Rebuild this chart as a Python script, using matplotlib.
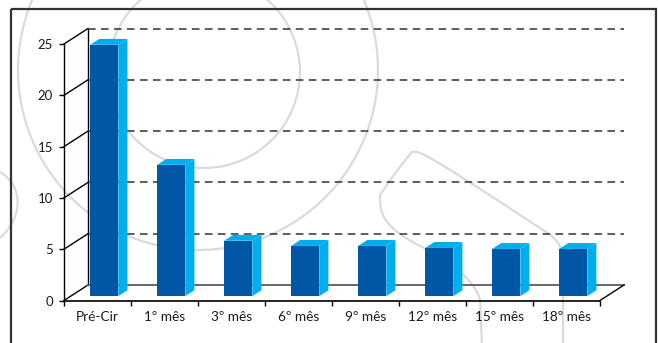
import numpy as np
import matplotlib.pyplot as plt
from matplotlib.patches import Polygon, Rectangle, Circle, PathPatch
from matplotlib.path import Path

plt.rcParams['font.family'] = ['Lato', 'DejaVu Sans']

# dados
categorias = ["Pré-Cir", "1º mês", "3º mês", "6º mês", "9º mês", "12º mês", "15º mês", "18º mês"]
valores = [24.5, 12.8, 5.4, 4.9, 4.9, 4.7, 4.6, 4.6]
yticks = [0, 5, 10, 15, 20, 25]

W, H = 658, 343
fig = plt.figure(figsize=(W / 100, H / 100), dpi=100)

# fundo: marca d'agua e moldura em coordenadas de pixel
bg = fig.add_axes([0, 0, 1, 1])
bg.set_xlim(0, W)
bg.set_ylim(H, 0)
bg.axis('off')
cinza = '#dadada'
bg.add_patch(Circle((198, 70), 180, fill=False, ec=cinza, lw=1.6))
bg.add_patch(Circle((204, 72), 96, fill=False, ec=cinza, lw=1.6))
forma = Path([(482, 345), (480, 300), (477, 287), (463, 272),
              (440, 255), (380, 230), (380, 213),
              (380, 195), (397, 170), (405, 160),
              (412, 152), (420, 150), (430, 156),
              (543, 230),
              (560, 240), (563, 250), (563, 262),
              (563, 345)],
             [Path.MOVETO, Path.LINETO, Path.CURVE4, Path.CURVE4,
              Path.CURVE4, Path.CURVE4, Path.CURVE4,
              Path.CURVE4, Path.CURVE4, Path.CURVE4,
              Path.CURVE4, Path.CURVE4, Path.CURVE4,
              Path.LINETO,
              Path.CURVE4, Path.CURVE4, Path.CURVE4,
              Path.LINETO])
bg.add_patch(PathPatch(forma, fill=False, ec=cinza, lw=1.6))
bolha = Path([(0, 172), (22, 185), (25, 215), (0, 238)],
             [Path.MOVETO, Path.CURVE4, Path.CURVE4, Path.CURVE4])
bg.add_patch(PathPatch(bolha, fill=False, ec=cinza, lw=1.6))
bg.add_patch(Rectangle((11, 9), 645, 400, fill=False, ec='#333333', lw=1.6))

# grafico principal (0..8 categorias, 0..25 valores)
ax = fig.add_axes([64 / W, 42.5 / H, 536 / W, 256.5 / H])
ax.patch.set_alpha(0)
ax.set_xlim(0, 8)
ax.set_ylim(0, 25)
for s in ['top', 'right']:
    ax.spines[s].set_visible(False)
ax.spines['left'].set_linewidth(1.0)
ax.spines['bottom'].set_linewidth(1.2)

ax.set_yticks(yticks)
ax.set_xticks(np.arange(len(categorias) + 1))
ax.set_xticklabels([])
ax.set_xticks(np.arange(len(categorias)) + 0.5, categorias, minor=True)
ax.tick_params(axis='y', length=3.6, width=1, pad=4.3, labelsize=9.5, labelcolor='#1a1a1a')
ax.tick_params(axis='x', which='major', length=3.6, width=1)
ax.tick_params(axis='x', which='minor', length=0, pad=7.3, labelsize=9.8, labelcolor='#1a1a1a')

# profundidade (perspectiva obliqua)
DX = 24 / 67
DY = 15.5 / 10.26
n = len(categorias)
kw = dict(clip_on=False)

# parede do fundo e chao
ax.plot([DX, DX], [DY, 25 + DY], color='black', lw=1, **kw)
for v in yticks:
    ax.plot([0, DX], [v, v + DY], color='black', lw=1, **kw)
    if v > 0:
        ax.plot([DX, n + DX], [v + DY, v + DY], color='#333333', lw=1.1,
                ls=(0, (5, 3.5)), **kw)
ax.plot([DX, n + DX], [DY, DY], color='#666666', lw=1.4, **kw)
ax.plot([n, n + DX], [0, DY], color='black', lw=1, **kw)

# barras 3D
f0, f1 = 0.28, 0.66
larg = 0.42
frente, lado = '#0057A6', '#00AEEF'
for i, v in enumerate(valores):
    x0 = i + 0.5 - larg / 2
    x1 = i + 0.5 + larg / 2
    ax0, ay0 = f0 * DX, f0 * DY
    ax1, ay1 = f1 * DX, f1 * DY
    ax.add_patch(Polygon([(x1 + ax0, ay0), (x1 + ax1, ay1), (x1 + ax1, v + ay1), (x1 + ax0, v + ay0)],
                         closed=True, fc=lado, ec='none', zorder=3, **kw))
    ax.add_patch(Polygon([(x0 + ax0, v + ay0), (x1 + ax0, v + ay0), (x1 + ax1, v + ay1), (x0 + ax1, v + ay1)],
                         closed=True, fc=lado, ec='none', zorder=3, **kw))
    ax.add_patch(Rectangle((x0 + ax0, ay0), larg, v, fc=frente, ec='none', zorder=3, **kw))

fig.savefig('out.png', dpi=100)
